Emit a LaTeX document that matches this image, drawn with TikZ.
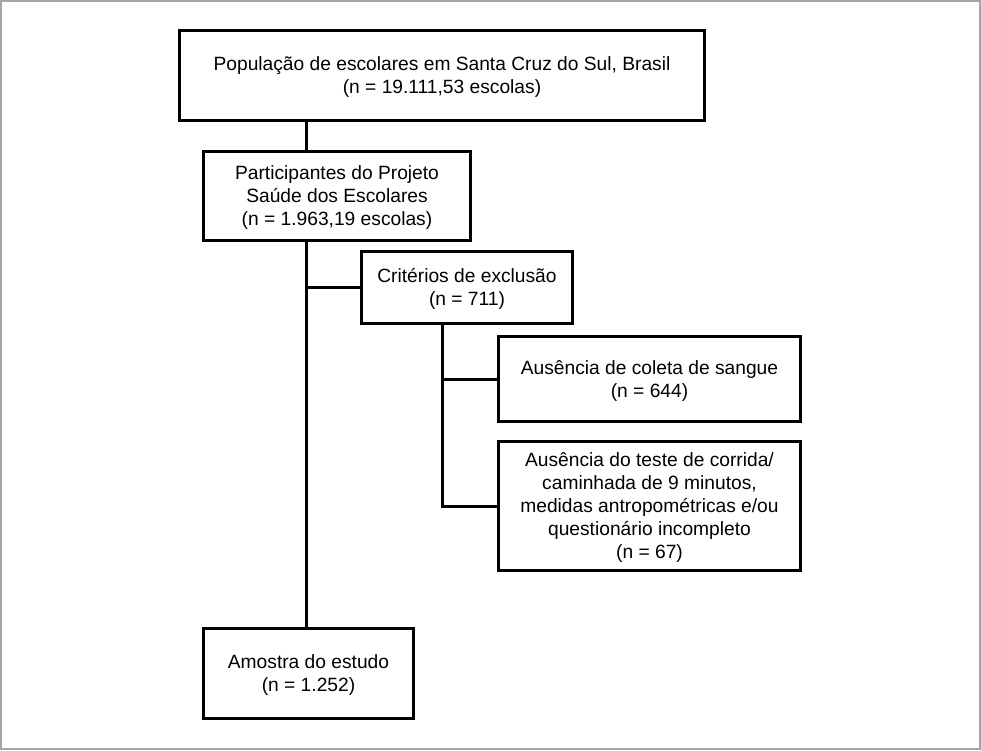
\documentclass[tikz,border=0pt]{standalone}
\usepackage{fontspec}
\setmainfont{Liberation Sans}
\newcommand{\mytopstrut}{\rule{0pt}{14pt}}
\newcommand{\mybotstrut}{\rule[-3.6pt]{0pt}{3.6pt}}
\begin{document}
\begin{tikzpicture}[x=0.75pt,y=-0.75pt,
  box/.style={draw=black,line width=2.25pt,align=center,inner sep=0pt,
    font=\fontsize{14.4pt}{17.25pt}\selectfont},
  conn/.style={draw=black,line width=2.25pt,line cap=rect}]
\useasboundingbox (0,0) rectangle (981,750);
\draw[gray!70,line width=1.5pt] (1,1) rectangle (979.5,748.5);
\node[box,minimum width=525pt*0.75,minimum height=90pt*0.75] (top) at (442,75.5)
  {\mytopstrut População de escolares em Santa Cruz do Sul, Brasil\\(n = 19.111,53 escolas)\mybotstrut};
\node[box,minimum width=267pt*0.75,minimum height=89pt*0.75] (part) at (337,196)
  {\mytopstrut Participantes do Projeto\\Saúde dos Escolares\\(n = 1.963,19 escolas)\mybotstrut};
\node[box,minimum width=211pt*0.75,minimum height=72pt*0.75] (crit) at (467,287.5)
  {\mytopstrut Critérios de exclusão\\(n = 711)\mybotstrut};
\node[box,minimum width=302pt*0.75,minimum height=85pt*0.75] (coleta) at (649.5,379)
  {\mytopstrut Ausência de coleta de sangue\\(n = 644)\mybotstrut};
\node[box,minimum width=302pt*0.75,minimum height=129pt*0.75] (teste) at (649.5,506)
  {\mytopstrut Ausência do teste de corrida/\\caminhada de 9 minutos,\\medidas antropométricas e/ou\\questionário incompleto\\(n = 67)\mybotstrut};
\node[box,minimum width=210pt*0.75,minimum height=90pt*0.75] (amostra) at (308.5,673.5)
  {\mytopstrut Amostra do estudo\\(n = 1.252)\mybotstrut};
\coordinate (ax) at (306,0);
\coordinate (bx) at (442,0);
\draw[conn] (top.south -| ax) -- (part.north -| ax);
\draw[conn] (part.south -| ax) -- (amostra.north -| ax);
\draw[conn] (crit.west -| ax) -- (crit.west);
\draw[conn] (crit.south -| bx) -- (teste.west -| bx) -- (teste.west);
\draw[conn] (coleta.west -| bx) -- (coleta.west);
\end{tikzpicture}
\end{document}
